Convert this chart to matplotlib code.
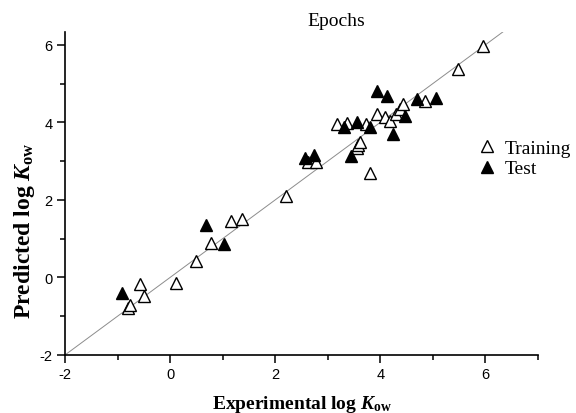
import numpy as np
import matplotlib.pyplot as plt
from matplotlib.ticker import MultipleLocator

# ── Style ──────────────────────────────────────────────────────────────────────
plt.rcParams.update({
    'font.family':          'Liberation Serif',
    'mathtext.fontset':     'custom',
    'mathtext.rm':          'Liberation Serif',
    'mathtext.it':          'Liberation Serif:italic',
    'mathtext.bf':          'Liberation Serif:bold',
    'mathtext.bfit':        'Liberation Serif:bold:italic',
    'axes.unicode_minus':   False,
    'axes.linewidth':       1.2,
    'xtick.direction':      'out',
    'ytick.direction':      'out',
})

# ── Data ──────────────────────────────────────────────────────────────────────
train_x = [-0.81, -0.76, -0.57, -0.50, 0.11, 0.49, 0.77, 1.15, 1.37, 2.20,
           2.63, 2.78, 3.17, 3.36, 3.55, 3.58, 3.61, 3.73, 3.80, 3.93,
           4.09, 4.18, 4.30, 4.37, 4.44, 4.85, 5.47, 5.96]
train_y = [-0.78, -0.71, -0.17, -0.49, -0.14, 0.43, 0.89, 1.46, 1.52, 2.11,
           2.97, 2.97, 3.97, 3.99, 3.33, 3.41, 3.50, 3.97, 2.69, 4.22,
           4.13, 4.04, 4.21, 4.34, 4.48, 4.56, 5.38, 5.97]

test_x = [-0.91, 0.68, 1.03, 2.57, 2.74, 3.30, 3.44, 3.55, 3.80, 3.94,
          4.12, 4.24, 4.47, 4.69, 5.06]
test_y = [-0.41, 1.35, 0.85, 3.07, 3.15, 3.87, 3.14, 4.00, 3.87, 4.82,
          4.67, 3.70, 4.17, 4.61, 4.62]

ideal = [-2, 6.33]          # y = x reference line
x_ticks = [-2, 0, 2, 4, 6]
y_ticks = [-2, 0, 2, 4, 6]

# ── Figure ─────────────────────────────────────────────────────────────────────
fig = plt.figure(figsize=(5.76, 4.14), dpi=100)
ax = fig.add_axes([0.1128, 0.1401, 0.8212, 0.7802])

ax.plot(ideal, ideal, color='#8c8c8c', lw=0.7, zorder=1)

ax.plot(train_x, train_y, ls='none', marker='^', ms=9, mfc='white',
        mec='black', mew=1.0, label='Training', zorder=3)
ax.plot(test_x, test_y, ls='none', marker='^', ms=9, mfc='black',
        mec='black', mew=1.0, label='Test', zorder=4)

ax.set_xlim(-2, 7)
ax.set_ylim(-2, 6.33)
ax.set_xticks(x_ticks)
ax.set_yticks(y_ticks)
ax.xaxis.set_minor_locator(MultipleLocator(1))
ax.yaxis.set_minor_locator(MultipleLocator(1))
ax.tick_params(which='major', length=6, width=1.1, labelsize=10.5, pad=3)
ax.tick_params(which='minor', length=3.5, width=1.1)
for lab in ax.get_xticklabels() + ax.get_yticklabels():
    lab.set_fontfamily('Liberation Sans')

ax.spines['top'].set_visible(False)
ax.spines['right'].set_visible(False)

ax.set_xlabel(r'$\mathbf{Experimental\ log\ }\mathbfit{K}_{\mathbf{ow}}$',
              fontsize=14, labelpad=8)
# y label sits lower than the axes centre in the original
fig.text(0.042, 0.442,
         r'$\mathbf{Predicted\ log\ }\mathbfit{K}_{\mathbf{ow}}$',
         rotation=90, ha='center', va='center', fontsize=17)

fig.text(0.583, 0.949, 'Epochs', ha='center', va='center', fontsize=14)

ax.legend(loc='center left', bbox_to_anchor=(0.812, 0.615),
          bbox_transform=fig.transFigure, frameon=False, fontsize=14,
          handletextpad=0.3, labelspacing=0.15, handlelength=1.2,
          borderaxespad=0)

fig.savefig('out.png', dpi=100, facecolor='white')
